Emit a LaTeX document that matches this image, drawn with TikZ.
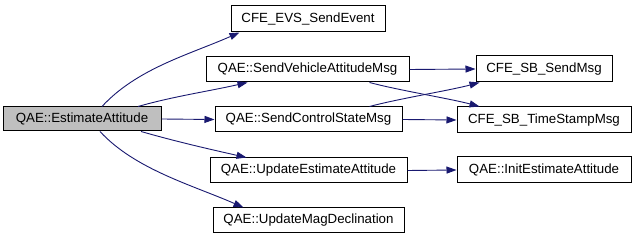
\documentclass[tikz,border=0pt]{standalone}
\usepackage{fontspec}
\setmainfont{Liberation Sans}
\usetikzlibrary{arrows.meta}
\definecolor{edgeblue}{HTML}{191970}
\definecolor{rootgrey}{HTML}{BFBFBF}
\tikzset{
  fn/.style={draw=black, line width=1pt, fill=white, inner sep=0pt,
    font=\fontsize{13.3}{15}\selectfont, anchor=center},
  rootfn/.style={fn, fill=rootgrey},
  call/.style={draw=edgeblue, line width=0.9pt,
    -{Triangle[length=10pt,width=7pt]}, color=edgeblue},
}
\begin{document}
\begin{tikzpicture}[x=1pt,y=1pt]
  \useasboundingbox (0,0) rectangle (636,240);
  % function boxes
  \node[rootfn, minimum width=158, minimum height=24] (root) at (82,121) {QAE::EstimateAttitude};
  \node[fn, minimum width=154, minimum height=26] (evs) at (308,221) {CFE\_EVS\_SendEvent};
  \node[fn, minimum width=203, minimum height=25] (svam) at (307.5,170.5) {QAE::SendVehicleAttitudeMsg};
  \node[fn, minimum width=187, minimum height=25] (scsm) at (308.5,120.5) {QAE::SendControlStateMsg};
  \node[fn, minimum width=197, minimum height=25] (uea) at (308.5,69.5) {QAE::UpdateEstimateAttitude};
  \node[fn, minimum width=191, minimum height=25] (umd) at (308.5,19.5) {QAE::UpdateMagDeclination};
  \node[fn, minimum width=136, minimum height=26] (send) at (544,171) {CFE\_SB\_SendMsg};
  \node[fn, minimum width=174, minimum height=26] (stamp) at (544,120) {CFE\_SB\_TimeStampMsg};
  \node[fn, minimum width=174, minimum height=26] (init) at (544,70) {QAE::InitEstimateAttitude};
  % calls from the root
  \draw[call] ([xshift=20]root.north) .. controls +(35,38) and +(-50,-22) .. ([xshift=9]evs.south west);
  \draw[call] ([xshift=56]root.north) .. controls +(35,10) and +(-40,-9) .. ([xshift=42]svam.south west);
  \draw[call] (root.east) -- (scsm.west);
  \draw[call] ([xshift=59]root.south) .. controls +(35,-10) and +(-40,9) .. ([xshift=37]uea.north west);
  \draw[call] ([xshift=18]root.south) .. controls +(35,-38) and +(-50,22) .. ([xshift=31]umd.north west);
  % second level calls
  \draw[call] (svam.east) -- (send.west);
  \draw[call] ([xshift=-40]svam.south east) .. controls +(30,-8) and +(-30,8) .. ([xshift=23]stamp.north west);
  \draw[call] ([xshift=-33]scsm.north east) .. controls +(30,8) and +(-30,-8) .. ([xshift=4]send.south west);
  \draw[call] (scsm.east) -- (stamp.west);
  \draw[call] (uea.east) -- (init.west);
\end{tikzpicture}
\end{document}
